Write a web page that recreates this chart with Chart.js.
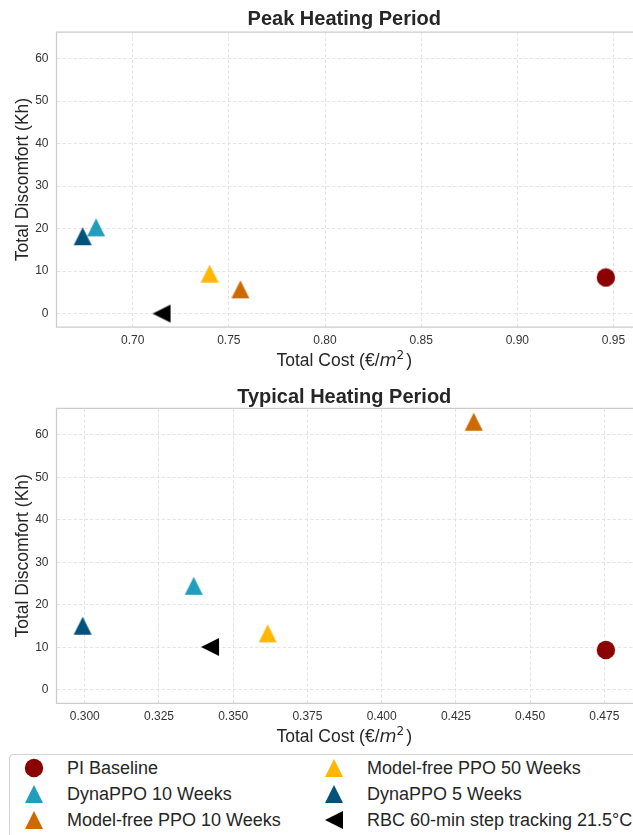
<!DOCTYPE html>
<html>
<head>
<meta charset="utf-8">
<title>Cost vs discomfort</title>
<script src="https://cdn.jsdelivr.net/npm/chart.js@4.4.1/dist/chart.umd.min.js"></script>
<style>
  html, body { margin: 0; padding: 0; background: #fff; }
  body { width: 633px; height: 835px; position: relative; overflow: hidden; font-family: "Liberation Sans", Arial, sans-serif; }
  .panel { position: absolute; left: 0; }
  #legend { position: absolute; left: 9px; top: 754px; width: 650px; height: 110px; border: 1px solid #d4d4d4; border-radius: 4px; box-sizing: border-box; background: #fff; }
  .entry { position: absolute; font-size: 18px; line-height: 20px; color: #262626; white-space: nowrap; }
  .swatch { position: absolute; }
</style>
</head>
<body>
<!-- canvases are wider than the page: the plot area runs to the right edge like the reference -->
<canvas id="peakChart" class="panel" width="700" height="375" style="top:0"></canvas>
<canvas id="typicalChart" class="panel" width="700" height="375" style="top:375px"></canvas>
<div id="legend"></div>

<script>
// ---- data ----
const methods = ['PI Baseline', 'DynaPPO 10 Weeks', 'Model-free PPO 10 Weeks',
                 'Model-free PPO 50 Weeks', 'DynaPPO 5 Weeks', 'RBC 60-min step tracking 21.5°C'];
const methodColors = ['#8b0000', '#219ebc', '#cc6a00', '#ffb703', '#03527a', '#000000'];
const methodMarkers = ['circle', 'up', 'up', 'up', 'up', 'left'];

const peakCost = [0.946, 0.681, 0.756, 0.740, 0.674, 0.715];
const peakDiscomfort = [8.5, 20.3, 5.7, 9.4, 18.2, 0.0];

const typicalCost = [0.4755, 0.3367, 0.4310, 0.3616, 0.2993, 0.3422];
const typicalDiscomfort = [9.4, 24.5, 63.1, 13.3, 15.1, 10.1];

const discomfortTicks = [0, 10, 20, 30, 40, 50, 60];
const peakCostTicks = [0.70, 0.75, 0.80, 0.85, 0.90, 0.95];
const typicalCostTicks = [0.300, 0.325, 0.350, 0.375, 0.400, 0.425, 0.450, 0.475];

const FONT = '"Liberation Sans", Arial, sans-serif';
const TEXT = '#262626';
const CANVAS_W = 700;
const AREA_LEFT = 56.5;
const AREA_RIGHT = 633;

/**
 * marker sprites, matplotlib-like shapes
 */
function makeMarker(shape, color) {
    const c = document.createElement('canvas');
    c.width = 20; c.height = 20;
    const g = c.getContext('2d');
    g.fillStyle = color;
    g.beginPath();
    if (shape === 'circle') {
        g.arc(10, 10, 9.2, 0, Math.PI * 2);
    } else if (shape === 'up') {
        g.moveTo(10, 1); g.lineTo(19, 19); g.lineTo(1, 19);
    } else {
        g.moveTo(1, 10); g.lineTo(19, 1); g.lineTo(19, 19);
    }
    g.closePath();
    g.fill();
    return c;
}

const sprites = methods.map((m, i) => makeMarker(methodMarkers[i], methodColors[i]));

// matplotlib style 5% margins
function padRange(lo, hi) {
    const m = (hi - lo) * 0.05;
    return [lo - m, hi + m];
}
const allDiscomfort = peakDiscomfort.concat(typicalDiscomfort);
const yRange = padRange(Math.min(...allDiscomfort), Math.max(...allDiscomfort));

/**
 * frame + texts plugin
 */
const frame = {
    id: 'frame',
    beforeDatasetsDraw(chart) {
        const { ctx, chartArea: a } = chart;
        ctx.save();
        ctx.strokeStyle = '#cccccc';
        ctx.lineWidth = 1.25;
        ctx.beginPath();
        ctx.moveTo(a.right + 2, a.top);
        ctx.lineTo(a.left, a.top);
        ctx.lineTo(a.left, a.bottom);
        ctx.lineTo(a.right + 2, a.bottom);
        ctx.stroke();
        ctx.restore();
    },
    afterDraw(chart, args, opts) {
        const { ctx, chartArea: a } = chart;
        const cx = (a.left + 632) / 2;
        ctx.save();
        ctx.fillStyle = TEXT;

        // title
        ctx.font = 'bold 20px ' + FONT;
        ctx.textAlign = 'center';
        ctx.textBaseline = 'alphabetic';
        ctx.fillText(opts.title, cx, a.top - opts.titleGap);

        // y title
        ctx.save();
        ctx.translate(27.5, (a.top + a.bottom) / 2);
        ctx.rotate(-Math.PI / 2);
        ctx.font = '17.5px ' + FONT;
        ctx.fillText('Total Discomfort (Kh)', 0, 0);
        ctx.restore();

        // x title with italic m and superscript 2
        const parts = [
            { t: 'Total Cost (€/', f: '17.5px ' + FONT, dy: 0 },
            { t: 'm', f: 'italic 17.5px "DejaVu Sans"', dy: 0 },
            { t: '2', f: '12px "DejaVu Sans"', dy: -7 },
            { t: ')', f: '17.5px ' + FONT, dy: 0 }
        ];
        let total = 0;
        parts.forEach(p => { ctx.font = p.f; p.w = ctx.measureText(p.t).width; total += p.w; });
        total += 2;
        let x = cx - total / 2;
        const base = a.bottom + 38.5;
        ctx.textAlign = 'left';
        parts.forEach((p, i) => {
            ctx.font = p.f;
            ctx.fillText(p.t, x, base + p.dy);
            x += p.w + (i === 2 ? 2 : 0);
        });
        ctx.restore();
    }
};

function buildChart(id, costs, discomforts, xTicks, decimals, areaTop, areaBottom, title, titleGap) {
    const H = 375;
    const xRange = padRange(Math.min(...costs), Math.max(...costs));
    // the reference axes end ~1px past the figure edge
    const span = xRange[1] - xRange[0];
    const xMax = xRange[0] + span * (AREA_RIGHT - AREA_LEFT) / (632 - AREA_LEFT);
    const datasets = methods.map((m, i) => ({
        label: m,
        data: [{ x: costs[i], y: discomforts[i] }],
        pointStyle: sprites[i],
        pointRadius: 10,
        pointHoverRadius: 10,
        backgroundColor: methodColors[i],
        borderColor: methodColors[i]
    }));

    return new Chart(document.getElementById(id), {
        type: 'scatter',
        data: { datasets },
        plugins: [frame],
        options: {
            responsive: false,
            animation: false,
            devicePixelRatio: 1,
            layout: { padding: { top: areaTop, right: CANVAS_W - AREA_RIGHT, left: 0, bottom: 0 } },
            plugins: {
                legend: { display: false },
                tooltip: { enabled: false },
                frame: { title, titleGap }
            },
            scales: {
                x: {
                    type: 'linear',
                    min: xRange[0],
                    max: xMax,
                    afterBuildTicks: s => { s.ticks = xTicks.map(v => ({ value: v })); },
                    afterFit: s => { s.height = H - areaBottom; },
                    grid: { color: '#dedede', lineWidth: 0.8, drawTicks: false },
                    border: { display: false, dash: [3.5, 2] },
                    ticks: {
                        padding: 6, autoSkip: false, maxRotation: 0, color: '#333',
                        font: { family: FONT, size: 12 },
                        callback: v => Number(v).toFixed(decimals)
                    }
                },
                y: {
                    type: 'linear',
                    min: yRange[0],
                    max: yRange[1],
                    afterBuildTicks: s => { s.ticks = discomfortTicks.map(v => ({ value: v })); },
                    afterFit: s => { s.width = AREA_LEFT; },
                    grid: { color: '#dedede', lineWidth: 0.8, drawTicks: false },
                    border: { display: false, dash: [3.5, 2] },
                    ticks: {
                        padding: 8, color: '#333',
                        font: { family: FONT, size: 12 },
                        callback: v => String(v)
                    }
                }
            }
        }
    });
}

function buildLegend() {
    const box = document.getElementById('legend');
    const colX = [34, 334];
    const textX = [67, 367];
    const rowY = [768.3, 794, 819.5];
    methods.forEach((m, i) => {
        const col = Math.floor(i / 3), row = i % 3;
        const sw = makeMarker(methodMarkers[i], methodColors[i]);
        sw.className = 'swatch';
        sw.style.left = (colX[col] - 10 - 10) + 'px';
        sw.style.top = (rowY[row] - 10 - 755) + 'px';
        box.appendChild(sw);
        const el = document.createElement('div');
        el.className = 'entry';
        el.textContent = m;
        el.style.left = (textX[col] - 10) + 'px';
        el.style.top = (rowY[row] - 10 - 755) + 'px';
        box.appendChild(el);
    });
}

buildChart('peakChart', peakCost, peakDiscomfort, peakCostTicks, 2, 32, 327, 'Peak Heating Period', 7.5);
buildChart('typicalChart', typicalCost, typicalDiscomfort, typicalCostTicks, 3, 33.3, 328.3, 'Typical Heating Period', 5.8);
buildLegend();
</script>
</body>
</html>
